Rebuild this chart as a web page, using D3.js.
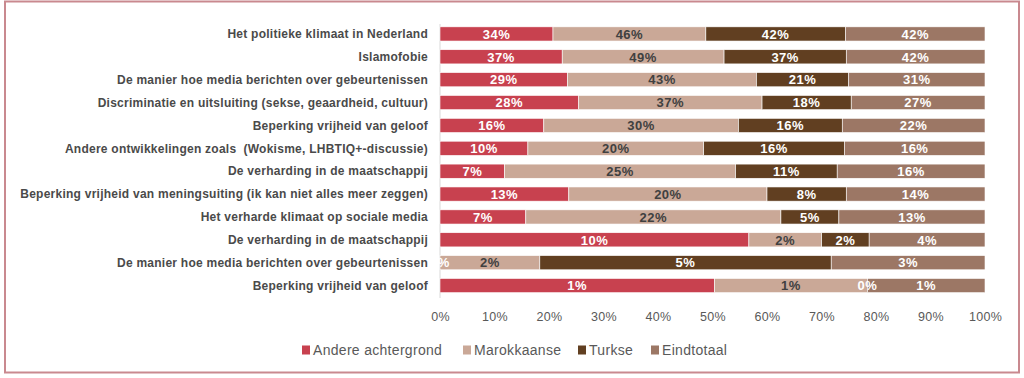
<!DOCTYPE html>
<html lang="nl">
<head>
  <meta charset="UTF-8">
  <title>Gestapelde balken</title>
  <script src="https://d3js.org/d3.v7.min.js"></script>
  <style>
    body { margin: 0; background: #fff; }
    svg { display: block; }
    .cat text { font-family: "Liberation Sans", Arial, sans-serif; font-weight: bold; font-size: 12px; letter-spacing: 0.25px; fill: #4a4a4a; white-space: pre; }
    .tick text { font-family: "Liberation Sans", Arial, sans-serif; font-size: 12.5px; letter-spacing: 0.3px; fill: #595959; }
    .lbl { font-family: "Liberation Sans", Arial, sans-serif; font-weight: bold; font-size: 13px; letter-spacing: 0.5px; }
    .legend text { font-family: "Liberation Sans", Arial, sans-serif; font-size: 14px; letter-spacing: 0.3px; fill: #595959; }
  </style>
</head>
<body>
  <svg id="chart" width="1024" height="378"></svg>

  <script>
    // categories, top to bottom
    const categories = [
      "Het politieke klimaat in Nederland",
      "Islamofobie",
      "De manier hoe media berichten over gebeurtenissen",
      "Discriminatie en uitsluiting (sekse, geaardheid, cultuur)",
      "Beperking vrijheid van geloof",
      "Andere ontwikkelingen zoals  (Wokisme, LHBTIQ+-discussie)",
      "De verharding in de maatschappij",
      "Beperking vrijheid van meningsuiting (ik kan niet alles meer zeggen)",
      "Het verharde klimaat op sociale media",
      "De verharding in de maatschappij",
      "De manier hoe media berichten over gebeurtenissen",
      "Beperking vrijheid van geloof"
    ];

    const seriesNames = ["Andere achtergrond", "Marokkaanse", "Turkse", "Eindtotaal"];

    // percentages per series
    const andere      = [34, 37, 29, 28, 16, 10, 7, 13, 7.4, 10.4, 0, 1.4];
    const marokkaanse = [46, 49, 43, 37, 30, 20, 25, 20, 22, 2.45, 1.85, 0.78];
    const turkse      = [42, 37, 21, 18, 16, 16, 11, 8, 5, 1.6, 5.4, 0];
    const eindtotaal  = [42, 42, 31, 27, 22, 16, 16, 14, 12.6, 3.9, 2.85, 0.6];

    const xTicks = [0, 0.1, 0.2, 0.3, 0.4, 0.5, 0.6, 0.7, 0.8, 0.9, 1];

    const colors = ["#c8414f", "#caa897", "#613f21", "#9c7765"];
    const labelColors = ["#ffffff", "#404040", "#ffffff", "#ffffff"];

    const rows = categories.map((c, i) => {
      const vals = [andere[i], marokkaanse[i], turkse[i], eindtotaal[i]];
      const total = d3.sum(vals);
      let acc = 0;
      const segs = vals.map((v, k) => {
        const s = { k, v, x0: acc / total, x1: (acc + v) / total };
        acc += v;
        return s;
      });
      return { i, cat: c, segs };
    });

    const svg = d3.select("#chart");

    // outer frame
    svg.append("rect")
      .attr("x", 5).attr("y", 1.5)
      .attr("width", 1014).attr("height", 371)
      .attr("fill", "none")
      .attr("stroke", "#c9898f")
      .attr("stroke-width", 2);

    const x = d3.scaleLinear().domain([0, 1]).range([440, 985]);
    const y = d3.scaleBand()
      .domain(d3.range(categories.length))
      .range([22.5, 297])
      .paddingInner(0.38)
      .paddingOuter(0.19);

    // axis (tick labels only)
    const xAxis = svg.append("g")
      .attr("transform", "translate(0,301)")
      .call(d3.axisBottom(x).tickValues(xTicks).tickFormat(d3.format(".0%")).tickSize(0).tickPadding(11));
    xAxis.select(".domain").remove();

    // vertical axis line
    svg.append("line")
      .attr("x1", x(0)).attr("x2", x(0))
      .attr("y1", 24).attr("y2", 298)
      .attr("stroke", "#d9d9d9");

    // category labels
    svg.append("g").attr("class", "cat")
      .selectAll("text")
      .data(rows)
      .join("text")
      .attr("x", 428)
      .attr("y", d => y(d.i) + y.bandwidth() / 2)
      .attr("dy", "0.35em")
      .attr("text-anchor", "end")
      .text(d => d.cat);

    const rowG = svg.append("g")
      .selectAll("g")
      .data(rows)
      .join("g")
      .attr("transform", d => `translate(0,${y(d.i)})`);

    rowG.selectAll("rect")
      .data(d => d.segs)
      .join("rect")
      .attr("x", d => x(d.x0))
      .attr("width", d => x(d.x1) - x(d.x0))
      .attr("height", y.bandwidth())
      .attr("fill", d => colors[d.k])
      .attr("stroke", "#fff")
      .attr("stroke-width", 0.6);

    rowG.selectAll("text")
      .data(d => d.segs)
      .join("text")
      .attr("class", "lbl")
      .attr("x", d => (x(d.x0) + x(d.x1)) / 2)
      .attr("y", y.bandwidth() / 2)
      .attr("dy", "0.36em")
      .attr("text-anchor", "middle")
      .attr("fill", d => labelColors[d.k])
      .text(d => Math.round(d.v) + "%");

    // legend
    const legendX = [302, 463, 578, 651];
    const legend = svg.append("g").attr("class", "legend")
      .selectAll("g")
      .data(seriesNames)
      .join("g")
      .attr("transform", (d, i) => `translate(${legendX[i]},350)`);

    legend.append("rect")
      .attr("x", 0).attr("y", -4.5)
      .attr("width", 8).attr("height", 9)
      .attr("fill", (d, i) => colors[i]);

    legend.append("text")
      .attr("x", 11)
      .attr("dy", "0.35em")
      .text(d => d);
  </script>
</body>
</html>
